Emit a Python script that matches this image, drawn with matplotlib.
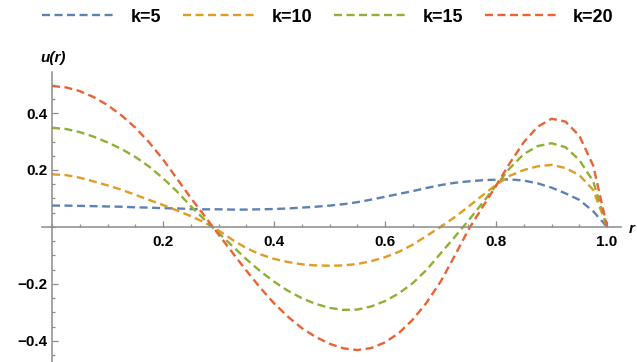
import numpy as np
import matplotlib.pyplot as plt
from matplotlib.ticker import MultipleLocator

plt.rcParams['font.family'] = ['Liberation Sans', 'DejaVu Sans']

# radius samples
r = [0.0, 0.025, 0.05, 0.075, 0.1, 0.125, 0.15, 0.175, 0.2, 0.225,
     0.25, 0.275, 0.3, 0.325, 0.35, 0.375, 0.4, 0.425, 0.45, 0.475,
     0.5, 0.525, 0.55, 0.575, 0.6, 0.625, 0.65, 0.675, 0.7, 0.725,
     0.75, 0.775, 0.8, 0.825, 0.85, 0.875, 0.9, 0.925, 0.95, 0.975, 1.0]

u_k5 = [0.075, 0.075, 0.074, 0.073, 0.072, 0.071, 0.069, 0.068, 0.066, 0.065,
        0.063, 0.062, 0.062, 0.061, 0.061, 0.062, 0.063, 0.065, 0.068, 0.071,
        0.075, 0.080, 0.087, 0.096, 0.106, 0.116, 0.126, 0.137, 0.147, 0.155,
        0.160, 0.164, 0.166, 0.167, 0.163, 0.153, 0.138, 0.118, 0.095, 0.055, 0.0]
u_k10 = [0.185, 0.182, 0.173, 0.160, 0.146, 0.131, 0.113, 0.095, 0.077, 0.058,
         0.038, 0.016, -0.012, -0.045, -0.074, -0.096, -0.112, -0.123, -0.131, -0.135,
         -0.136, -0.135, -0.130, -0.120, -0.106, -0.087, -0.062, -0.031, 0.0, 0.034,
         0.071, 0.110, 0.148, 0.180, 0.200, 0.213, 0.218, 0.207, 0.182, 0.130, 0.0]
u_k15 = [0.348, 0.344, 0.333, 0.317, 0.297, 0.274, 0.246, 0.212, 0.171, 0.125,
         0.073, 0.025, -0.021, -0.067, -0.113, -0.155, -0.192, -0.224, -0.250, -0.270,
         -0.284, -0.291, -0.290, -0.279, -0.260, -0.233, -0.197, -0.150, -0.093, -0.036,
         0.022, 0.083, 0.146, 0.207, 0.256, 0.284, 0.294, 0.280, 0.235, 0.160, 0.0]
u_k20 = [0.495, 0.490, 0.477, 0.456, 0.428, 0.392, 0.349, 0.297, 0.237, 0.170,
         0.102, 0.038, -0.026, -0.090, -0.153, -0.213, -0.268, -0.315, -0.355, -0.386,
         -0.410, -0.426, -0.432, -0.425, -0.405, -0.372, -0.325, -0.265, -0.192, -0.103,
         -0.010, 0.068, 0.145, 0.225, 0.298, 0.352, 0.380, 0.370, 0.320, 0.215, 0.0]

labels = ['k=5', 'k=10', 'k=15', 'k=20']
colors = ['#5E81B5', '#E19C24', '#8FB032', '#EB6235']

fig = plt.figure(figsize=(6.37, 3.62), dpi=100)
ax = fig.add_axes([42/637, 0.0, (621-42)/637, (362-72)/362])

for u, lab, c in zip([u_k5, u_k10, u_k15, u_k20], labels, colors):
    ax.plot(r, u, color=c, lw=1.7, dashes=(3.4, 1.9), label=lab)

ax.set_xlim(-0.018, 1.025)
ax.set_ylim(-0.474, 0.544)

for s in ['top', 'right']:
    ax.spines[s].set_visible(False)
for s in ['left', 'bottom']:
    ax.spines[s].set_position(('data', 0))
    ax.spines[s].set_color('#8c8c8c')
    ax.spines[s].set_linewidth(1.1)

ax.set_xticks([0.2, 0.4, 0.6, 0.8, 1.0])
ax.set_xticklabels(['0.2', '0.4', '0.6', '0.8', '1.0'])
ax.set_yticks([-0.4, -0.2, 0.2, 0.4])
ax.set_yticklabels(['\u22120.4', '\u22120.2', '0.2', '0.4'])
ax.xaxis.set_minor_locator(MultipleLocator(0.05))
ax.yaxis.set_minor_locator(MultipleLocator(0.05))
ax.tick_params(which='both', direction='in', color='#8c8c8c', width=0.9)
ax.tick_params(which='major', length=4)
ax.tick_params(which='minor', length=2.5)
ax.tick_params(axis='x', which='major', pad=6)
ax.tick_params(axis='y', which='major', pad=3)
for t in ax.get_xticklabels() + ax.get_yticklabels():
    t.set_fontweight('bold')
    t.set_fontsize(11)

fig.text(53/637, 1 - 58/362, 'u(r)', ha='center', va='center',
         fontsize=11, fontweight='bold', style='italic')
fig.text(629/637, 1 - 229/362, 'r', ha='left', va='center',
         fontsize=11, fontweight='bold', style='italic')

fig.legend(loc='center', bbox_to_anchor=(0.515, 1 - 17/362), ncol=4,
           frameon=False, handlelength=4.0, columnspacing=1.2,
           handletextpad=0.9, prop={'weight': 'bold', 'size': 13})

fig.savefig('out.png', dpi=100)
